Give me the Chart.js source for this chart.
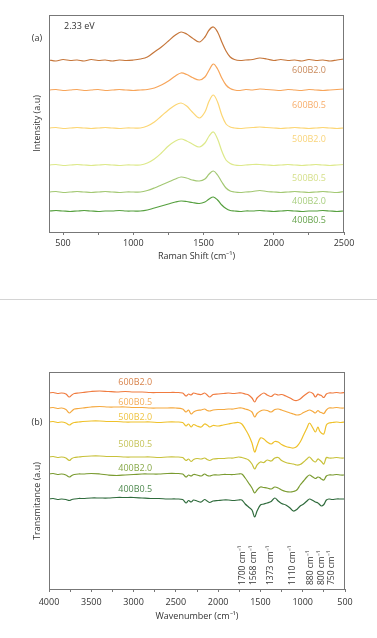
<!DOCTYPE html>
<html>
<head>
<meta charset="utf-8">
<script src="https://cdn.jsdelivr.net/npm/chart.js@4"></script>
<style>
  body { margin: 0; background: #fff; width: 377px; height: 638px; overflow: hidden; position: relative; }
  #wa { position: absolute; left: 0; top: 0; width: 377px; height: 299px; }
  #sep { position: absolute; left: 0; top: 299px; width: 377px; height: 1px; background: #d4d4d4; }
  #wb { position: absolute; left: 0; top: 300px; width: 377px; height: 338px; }
</style>
</head>
<body>
<div id="wa"><canvas id="chartA"></canvas></div>
<div id="sep"></div>
<div id="wb"><canvas id="chartB"></canvas></div>
<script>
// sample names (top to bottom)
const samples = ['600B2.0', '600B0.5', '500B2.0', '500B0.5', '400B2.0', '400B0.5'];

// (a) Raman spectra, offset intensity (a.u.)
const ramanShift = [400, 450, 500, 550, 600, 650, 700, 750, 800, 850, 900, 950, 1000,
  1050, 1100, 1150, 1200, 1250, 1300, 1340, 1380, 1420, 1470, 1510, 1540, 1570, 1600, 1630, 1660, 1690, 1720,
  1760, 1800, 1850, 1900, 1950, 2000, 2050, 2100, 2150, 2200, 2250, 2300, 2350, 2400, 2450, 2500];
const raman600B20 = [172, 171, 172.5, 171.5, 172, 171, 172.5, 171.5, 172, 171, 172, 171.5, 172,
  173, 175, 180, 185, 191, 197, 200, 198, 194, 190, 195, 202, 205, 200, 190, 181, 175, 172.5,
  171.5, 172, 172.5, 174, 173, 171.5, 172.5, 171.5, 172, 171, 172.5, 171.5, 172, 171, 172, 173];
const raman600B05 = [142, 142.5, 141.5, 142, 142.5, 141.5, 142, 142.5, 141.5, 142, 142.5, 142, 141.5,
  142, 142.5, 144, 147, 151, 156, 159, 157.5, 154.5, 152, 155, 162, 168, 163, 154, 147, 143.5, 142,
  141.5, 142.5, 142, 143, 142.5, 142, 141.5, 142.5, 142, 141.5, 142.5, 142, 141.5, 142, 142.5, 143];
const raman500B20 = [104, 104.5, 103.5, 104, 104.5, 104, 103.5, 104, 104.5, 104, 103.5, 104, 104,
  104, 106, 110, 116, 122, 127, 129, 126, 120, 114, 120, 131, 137, 130, 117, 108, 105, 104,
  103.5, 104, 104.5, 105, 104.5, 104, 103.5, 104, 104.5, 104, 103.5, 104, 104.5, 104, 103.5, 104];
const raman500B05 = [67, 67.5, 66.5, 67, 67.5, 67, 66.5, 67, 67.5, 67, 66.5, 67, 67,
  67, 69, 73, 79, 86, 91, 93, 91, 88, 85, 89, 96, 100, 93, 81, 72, 68.5, 67,
  66.5, 67, 67.5, 67.5, 67, 66.5, 67, 67.5, 67, 66.5, 67, 67.5, 67, 66.5, 67, 67.5];
const raman400B20 = [40, 40.5, 39.5, 40, 40.5, 40, 39.5, 40, 40.5, 40, 39.5, 40, 40,
  40, 41.5, 44, 47, 50, 53, 55, 54, 52, 51, 53, 58, 61, 57, 50, 44, 41, 40,
  39.5, 40, 40.5, 41.5, 40.5, 40, 39.5, 40, 40.5, 40, 39.5, 40, 40.5, 40, 39.5, 40.5];
const raman400B05 = [21, 21.5, 21, 20.5, 21, 21.5, 21, 20.5, 21, 21, 21.5, 21, 21,
  21, 22, 24, 26, 28, 30, 31, 30.5, 29.5, 28.5, 30, 33, 35, 32, 27, 23.5, 21.5, 21,
  20.5, 21, 21, 21.5, 21, 20.5, 21, 21.5, 21, 20.5, 21, 21, 21.5, 21, 20.5, 21];
const ramanTicks = [500, 750, 1000, 1250, 1500, 1750, 2000, 2250, 2500];

// (b) FTIR spectra, offset transmittance (a.u.)
const wavenumber = [4000, 3950, 3900, 3850, 3800, 3760, 3730, 3700, 3650, 3600,
  3500, 3400, 3300, 3200, 3100, 3000, 2900, 2800, 2700, 2600,
  2500, 2420, 2380, 2350, 2320, 2290, 2250, 2200, 2160, 2130,
  2100, 2060, 2000, 1940, 1880, 1820, 1760, 1720, 1680, 1640,
  1600, 1568, 1540, 1500, 1460, 1420, 1373, 1330, 1290, 1250,
  1200, 1150, 1110, 1070, 1030, 990, 950, 920, 880, 850,
  820, 800, 780, 750, 720, 690, 650, 600, 550, 500];
const ir600B20 = [196, 196.5, 195.5, 196, 195, 192, 194, 195.5, 196, 196.5,
  197.5, 198, 197.5, 197, 197.5, 197, 197, 196.5, 196.5, 196.5,
  196.5, 196, 193, 195, 194, 196, 195, 194.5, 196, 194,
  192, 194.5, 195, 195.5, 196, 195.5, 196, 196, 195, 194,
  191, 187, 191, 194, 196, 194, 192.5, 195, 194, 194.5,
  193, 191, 189, 188.5, 190, 193, 195.5, 197, 195.5, 192,
  195, 194, 193.5, 191.5, 195, 196, 196, 196.5, 196, 196.5];
const ir600B05 = [181, 181.5, 180.5, 181, 179.5, 176, 178, 180, 180.5, 181,
  182, 182.5, 182, 182, 182, 181.5, 181.5, 181, 181, 181,
  181, 180, 177, 179, 175, 177, 178.5, 179, 180, 178.5,
  178, 179, 179.5, 179.5, 180, 180, 181, 181, 180, 179,
  177, 172, 175.5, 178, 179, 178.5, 177, 179.5, 180, 179,
  177.5, 176, 175, 174, 174.5, 176.5, 178, 179, 177.5, 176,
  178.5, 177, 176.5, 175.5, 179, 181, 181, 181.5, 181, 181];
const ir500B20 = [167, 167.5, 166.5, 167, 166, 164, 165.5, 166.5, 167, 167.5,
  168, 168, 167.5, 167.5, 167, 167, 167, 167, 166.5, 167,
  167, 166.5, 163, 165, 162, 164.5, 163, 162, 165, 164,
  162, 163.5, 163, 164, 165, 166, 166.5, 165, 160, 154,
  146, 137, 143, 151, 150, 147, 145, 147.5, 147, 144.5,
  142.5, 141.5, 141, 142.5, 147, 154, 161, 166, 161, 157,
  162, 158, 156, 155, 164, 166, 166.5, 167, 166.5, 167];
const ir500B05 = [132, 132.5, 131.5, 132, 131, 128.5, 130.5, 131.5, 132, 132.5,
  133, 133, 132.5, 132.5, 132, 132, 132, 132, 131.5, 132,
  132, 131.5, 128.5, 130, 127.5, 129.5, 130.5, 130, 131, 129.5,
  128.5, 130, 130.5, 130.5, 131, 131, 132, 131.5, 130.5, 129,
  125, 120, 124, 127, 126.5, 129, 128, 131, 131.5, 128.5,
  126.5, 125.5, 125, 124, 124.5, 127, 130, 132, 128.5, 127,
  130, 129, 127.5, 125, 131.5, 131, 131, 131.5, 131, 131];
const ir400B20 = [115, 115.5, 114.5, 115, 114, 112, 113.5, 114.5, 115, 115,
  115.5, 115, 114, 113.5, 114, 114.5, 115, 115, 115, 115.5,
  115.5, 115, 112, 114, 113, 114.5, 114, 113, 115, 113.5,
  113, 114, 114, 114.5, 114.5, 114.5, 115, 115, 111, 106,
  101, 96, 99, 102, 101.5, 101, 100, 102, 101, 99,
  97.5, 97, 97.5, 99, 104, 108, 112, 114, 112, 110.5,
  112, 111.5, 110, 109, 113, 114, 114, 114.5, 114, 114];
const ir400B05 = [90, 90.5, 89.5, 90, 89.5, 88.5, 89.5, 90, 90.5, 90.5,
  91, 91, 91, 91.5, 91.5, 91.5, 91, 90.5, 90.5, 90,
  90, 89.5, 86, 88.5, 87, 89, 88, 87, 89.5, 88,
  86.5, 88, 88.5, 89, 89, 88.5, 89, 89, 85, 82,
  79, 72, 78, 84, 85, 86, 87.5, 91, 88, 85.5,
  84, 81, 78, 79.5, 83, 85, 88, 90, 88.5, 87,
  86, 84.5, 83, 84.5, 89, 90, 89.5, 90, 90, 90];
const irTicks = [4000, 3750, 3500, 3250, 3000, 2750, 2500, 2250, 2000, 1750, 1500, 1250, 1000, 750, 500];
const irBands = ['1700', '1568', '1373', '1110', '880', '800', '750'];

// styling
const ramanColors = ['#c6763a', '#f7a55a', '#fcd674', '#dde98a', '#a3c873', '#56a03f'];
const ramanLabelColors = ['#c98a5c', '#f7ad6a', '#f9d47a', '#d6e08c', '#a9cf80', '#66a34c'];
const irColors = ['#f07b3f', '#f5a93f', '#efc12a', '#c8c13a', '#7a9b30', '#2f6b3c'];
const irLabelColors = ['#d8824a', '#f5ad5a', '#efc443', '#c6c45a', '#86a846', '#4f8a4f'];
const FONT = '"Open Sans", sans-serif';
const axisColor = '#777';
const textColor = '#333';

Chart.defaults.font.family = FONT;
Chart.defaults.font.size = 9;
Chart.defaults.color = textColor;

function toPoints(xs, ys) {
  return xs.map((x, i) => ({ x: x, y: ys[i] }));
}

function makeSets(xs, series, colors) {
  return series.map((ys, i) => ({
    label: samples[i],
    data: toPoints(xs, ys),
    borderColor: colors[i],
    borderWidth: 1.2,
    pointRadius: 0,
    tension: 0.35,
    fill: false
  }));
}

// frame, sample names and other notes on top of the plot
const decor = {
  id: 'decor',
  afterDatasetsDraw(chart, args, o) {
    const { ctx, chartArea: a, scales: { x, y } } = chart;
    ctx.save();
    ctx.strokeStyle = axisColor;
    ctx.lineWidth = 1;
    ctx.strokeRect(Math.round(a.left) + 0.5, Math.round(a.top) + 0.5,
      Math.round(a.right - a.left) - 1, Math.round(a.bottom - a.top));

    ctx.font = '9px ' + FONT;
    ctx.textBaseline = 'middle';
    ctx.textAlign = o.labelAlign;
    chart.data.datasets.forEach((ds, i) => {
      ctx.fillStyle = o.labelColors[i];
      ctx.fillText(ds.label, x.getPixelForValue(o.labelX), y.getPixelForValue(o.labelY[i]));
    });

    ctx.fillStyle = textColor;
    (o.notes || []).forEach(n => {
      ctx.save();
      ctx.font = (n.size || 9) + 'px ' + FONT;
      ctx.translate(n.px, n.py);
      if (n.rot) ctx.rotate(n.rot);
      ctx.textAlign = n.align || 'left';
      ctx.fillText(n.text, 0, 0);
      ctx.restore();
    });

    (o.bands || []).forEach((b, i) => {
      ctx.save();
      ctx.font = '8.5px ' + FONT;
      ctx.translate(x.getPixelForValue(o.bandPos[i]), a.bottom - 4);
      ctx.rotate(-Math.PI / 2);
      ctx.textAlign = 'left';
      ctx.fillText(b + ' cm\u207B\u00B9', 0, 0);
      ctx.restore();
    });
    ctx.restore();
  }
};

function xAxis(min, max, reverse, ticks, title, h, labelPad, titlePad) {
  return {
    type: 'linear', min: min, max: max, reverse: reverse,
    afterBuildTicks: s => { s.ticks = ticks.map(v => ({ value: v })); },
    afterFit: s => { s.height = h; },
    ticks: { autoSkip: false, maxRotation: 0, padding: labelPad, color: textColor,
      callback: v => (v % 500 === 0 ? String(v) : '') },
    grid: { drawOnChartArea: false, tickLength: 3, color: axisColor },
    border: { display: false },
    title: { display: true, text: title, color: textColor, padding: { top: 0, bottom: titlePad } }
  };
}

function yAxis(title) {
  return {
    min: 0, max: 217,
    afterFit: s => { s.width = 23; },
    ticks: { display: false },
    grid: { display: false },
    border: { display: false },
    title: { display: !!title, text: title, color: textColor, padding: { top: 6, bottom: 0 } }
  };
}

// (a) Raman
new Chart(document.getElementById('chartA'), {
  type: 'line',
  data: {
    datasets: makeSets(ramanShift,
      [raman600B20, raman600B05, raman500B20, raman500B05, raman400B20, raman400B05], ramanColors)
  },
  options: {
    responsive: true, maintainAspectRatio: false, animation: false,
    layout: { padding: { left: 26, right: 33, top: 15, bottom: 34 } },
    scales: {
      x: xAxis(400, 2500, false, ramanTicks, 'Raman Shift (cm\u207B\u00B9)', 33, 3, 3),
      y: yAxis('Intensity (a.u)')
    },
    plugins: {
      legend: { display: false },
      tooltip: { enabled: false },
      decor: {
        labelAlign: 'right', labelX: 2372, labelY: [162, 127, 93, 54, 31, 12],
        labelColors: ramanLabelColors,
        notes: [
          { text: '2.33 eV', px: 64, py: 26, size: 9 },
          { text: '(a)', px: 37, py: 38, align: 'center' }
        ]
      }
    }
  },
  plugins: [decor]
});

// (b) FTIR
new Chart(document.getElementById('chartB'), {
  type: 'line',
  data: {
    datasets: makeSets(wavenumber,
      [ir600B20, ir600B05, ir500B20, ir500B05, ir400B20, ir400B05], irColors)
  },
  options: {
    responsive: true, maintainAspectRatio: false, animation: false,
    layout: { padding: { left: 26, right: 32, top: 72, bottom: 15 } },
    scales: {
      x: xAxis(500, 4000, true, irTicks, 'Wavenumber (cm\u207B\u00B9)', 34, 5, 1),
      y: yAxis('')
    },
    plugins: {
      legend: { display: false },
      tooltip: { enabled: false },
      decor: {
        labelAlign: 'center', labelX: 2980, labelY: [207, 187, 172, 145, 121, 100],
        labelColors: irLabelColors,
        bands: irBands, bandPos: [1707, 1585, 1376, 1116, 912, 773, 660],
        notes: [
          { text: '(b)', px: 37, py: 122, align: 'center' },
          { text: 'Transmitance (a.u)', px: 37, py: 201, rot: -Math.PI / 2, align: 'center' }
        ]
      }
    }
  },
  plugins: [decor]
});
</script>
</body>
</html>
